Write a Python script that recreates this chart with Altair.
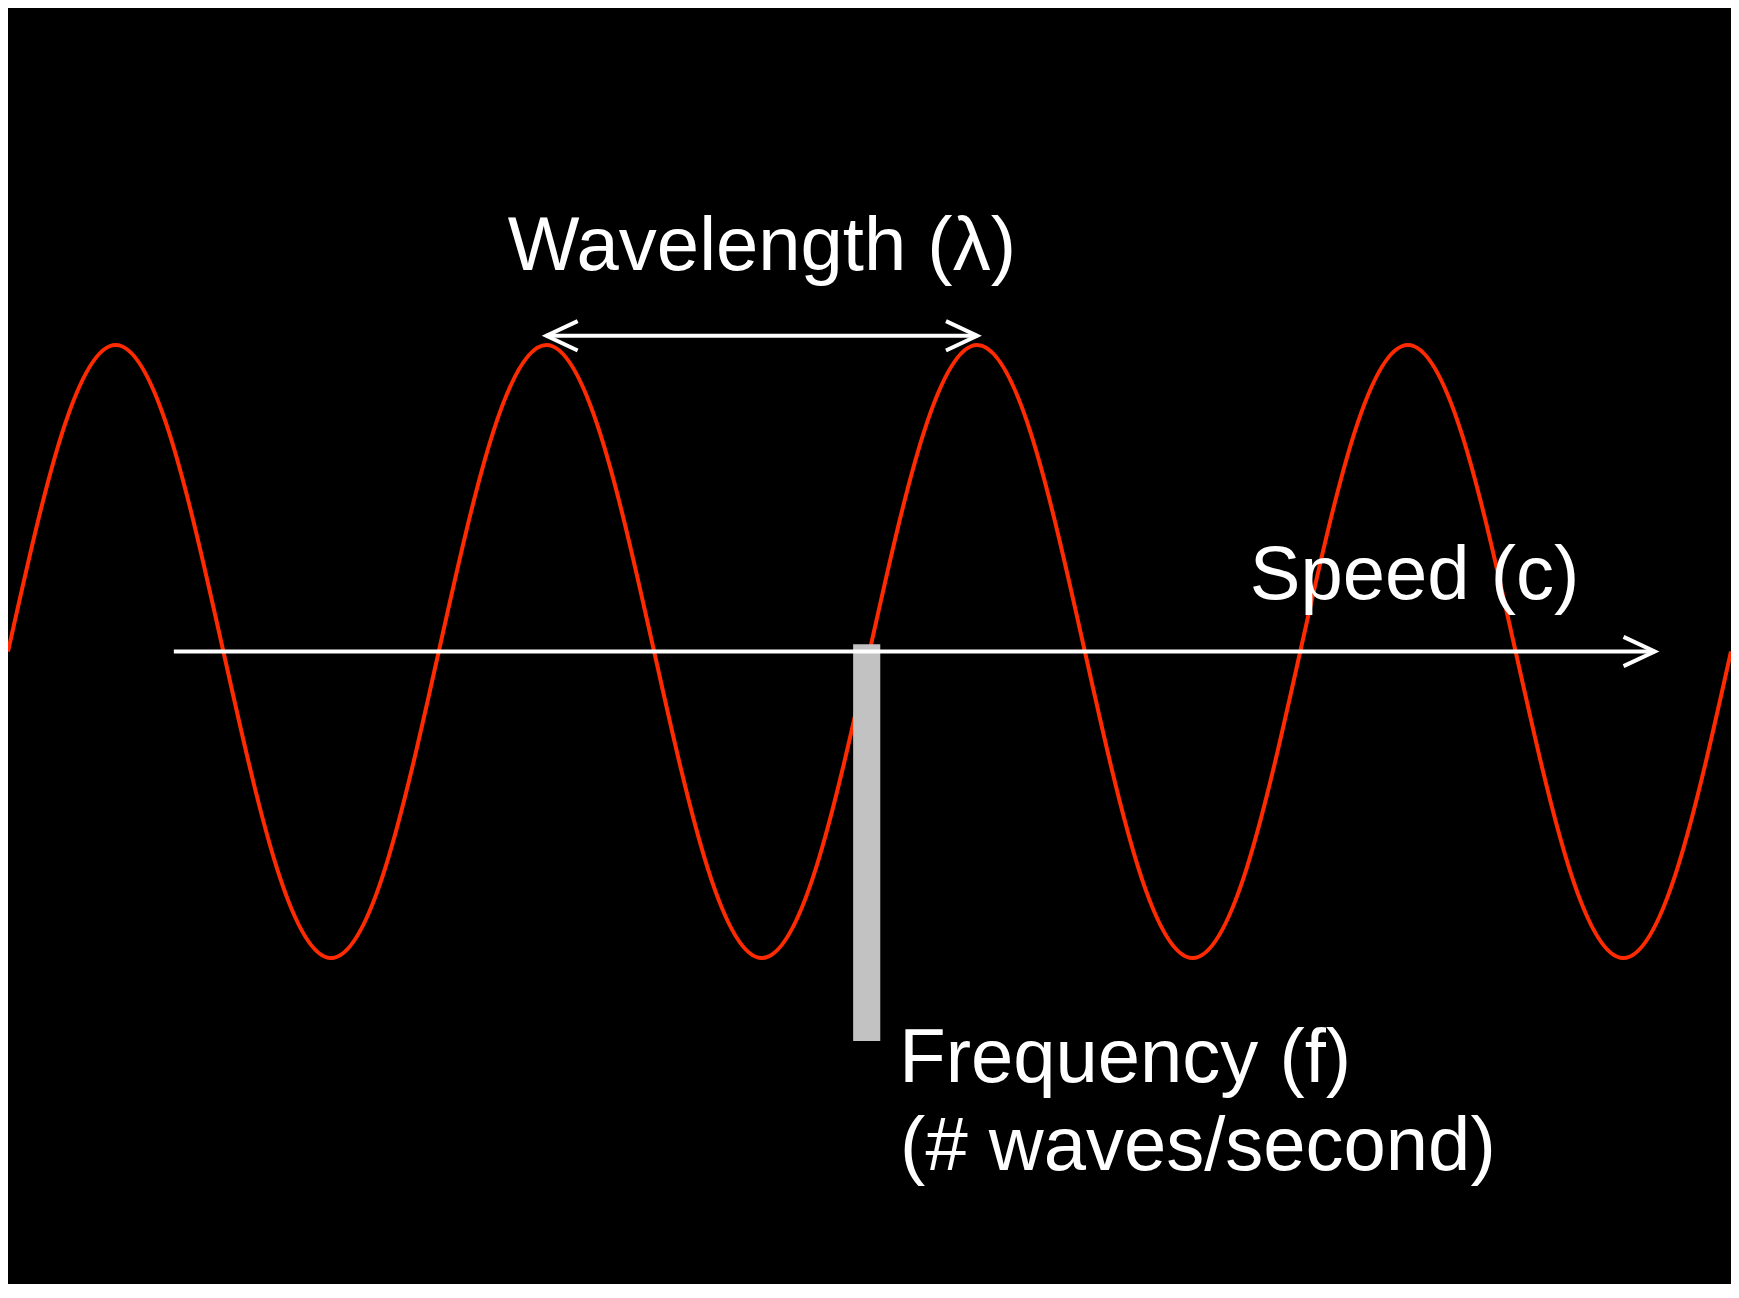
import altair as alt
import pandas as pd

# ---- data (x in wavelengths, y in amplitudes) ----
wave_x = [0.0, 0.125, 0.25, 0.375, 0.5, 0.625, 0.75, 0.875,
          1.0, 1.125, 1.25, 1.375, 1.5, 1.625, 1.75, 1.875,
          2.0, 2.125, 2.25, 2.375, 2.5, 2.625, 2.75, 2.875,
          3.0, 3.125, 3.25, 3.375, 3.5, 3.625, 3.75, 3.875, 4.0]
wave_y = [0.0, 0.71, 1.0, 0.71, 0.0, -0.71, -1.0, -0.71,
          0.0, 0.71, 1.0, 0.71, 0.0, -0.71, -1.0, -0.71,
          0.0, 0.71, 1.0, 0.71, 0.0, -0.71, -1.0, -0.71,
          0.0, 0.71, 1.0, 0.71, 0.0, -0.71, -1.0, -0.71, 0.0]

# arrows: speed axis and wavelength span
seg_x1 = [0.385, 1.25]
seg_x2 = [3.823, 2.25]
seg_y = [0.0, 1.03]

# arrow tips
right_tip_x = [3.823, 2.25]
right_tip_y = [0.0, 1.03]
left_tip_x = [1.25]
left_tip_y = [1.03]

# frequency bar
bar_x1 = [1.962]
bar_x2 = [2.025]
bar_y1 = [0.024]
bar_y2 = [-1.271]

# labels
label_text = ["Wavelength (λ)", "Speed (c)", "Frequency (f)", "(# waves/second)"]
label_x = [1.75, 2.883, 2.069, 2.071]
label_y = [1.245, 0.171, -1.403, -1.693]
label_align = ["center", "left", "left", "left"]

W, H = 1723, 1276
xs = alt.Scale(domain=[0, 4], nice=False, zero=False)
ys = alt.Scale(domain=[-2.0636, 2.0995], nice=False, zero=False)

wave_df = pd.DataFrame({"x": wave_x, "y": wave_y})
seg_df = pd.DataFrame({"x": seg_x1, "x2": seg_x2, "y": seg_y})
rt_df = pd.DataFrame({"x": right_tip_x, "y": right_tip_y})
lt_df = pd.DataFrame({"x": left_tip_x, "y": left_tip_y})
bar_df = pd.DataFrame({"x": bar_x1, "x2": bar_x2, "y": bar_y1, "y2": bar_y2})
lab_df = pd.DataFrame({"t": label_text, "x": label_x, "y": label_y, "a": label_align})

X = alt.X("x:Q", scale=xs, axis=None)
Y = alt.Y("y:Q", scale=ys, axis=None)

wave = alt.Chart(wave_df).mark_line(
    color="#ff2a00", strokeWidth=4, interpolate="natural"
).encode(x=X, y=Y, order="x:Q")

bar = alt.Chart(bar_df).mark_rect(color="#c2c2c2").encode(
    x=X, x2="x2:Q", y=Y, y2="y2:Q"
)

segs = alt.Chart(seg_df).mark_rule(color="white", strokeWidth=4).encode(
    x=X, x2="x2:Q", y=Y
)

rtips = alt.Chart(rt_df).mark_point(
    shape="M-1,-0.47L0,0L-1,0.47", size=3900, filled=False,
    color="white", strokeWidth=4, opacity=1, strokeJoin="miter"
).encode(x=X, y=Y)

ltips = alt.Chart(lt_df).mark_point(
    shape="M1,-0.47L0,0L1,0.47", size=3900, filled=False,
    color="white", strokeWidth=4, opacity=1, strokeJoin="miter"
).encode(x=X, y=Y)

font = "Liberation Sans, Arial, sans-serif"
lab_center = alt.Chart(lab_df[lab_df.a == "center"]).mark_text(
    color="white", fontSize=76, font=font, align="center", baseline="alphabetic"
).encode(x=X, y=Y, text="t:N")
lab_left = alt.Chart(lab_df[lab_df.a == "left"]).mark_text(
    color="white", fontSize=76, font=font, align="left", baseline="alphabetic"
).encode(x=X, y=Y, text="t:N")

chart = alt.layer(wave, bar, segs, rtips, ltips, lab_center, lab_left).properties(
    width=W, height=H, padding=0, autosize="none", background="black"
).configure_view(stroke=None, strokeWidth=0, fill="black")

chart.save("out.html", embed_options={"renderer": "svg", "actions": False})
